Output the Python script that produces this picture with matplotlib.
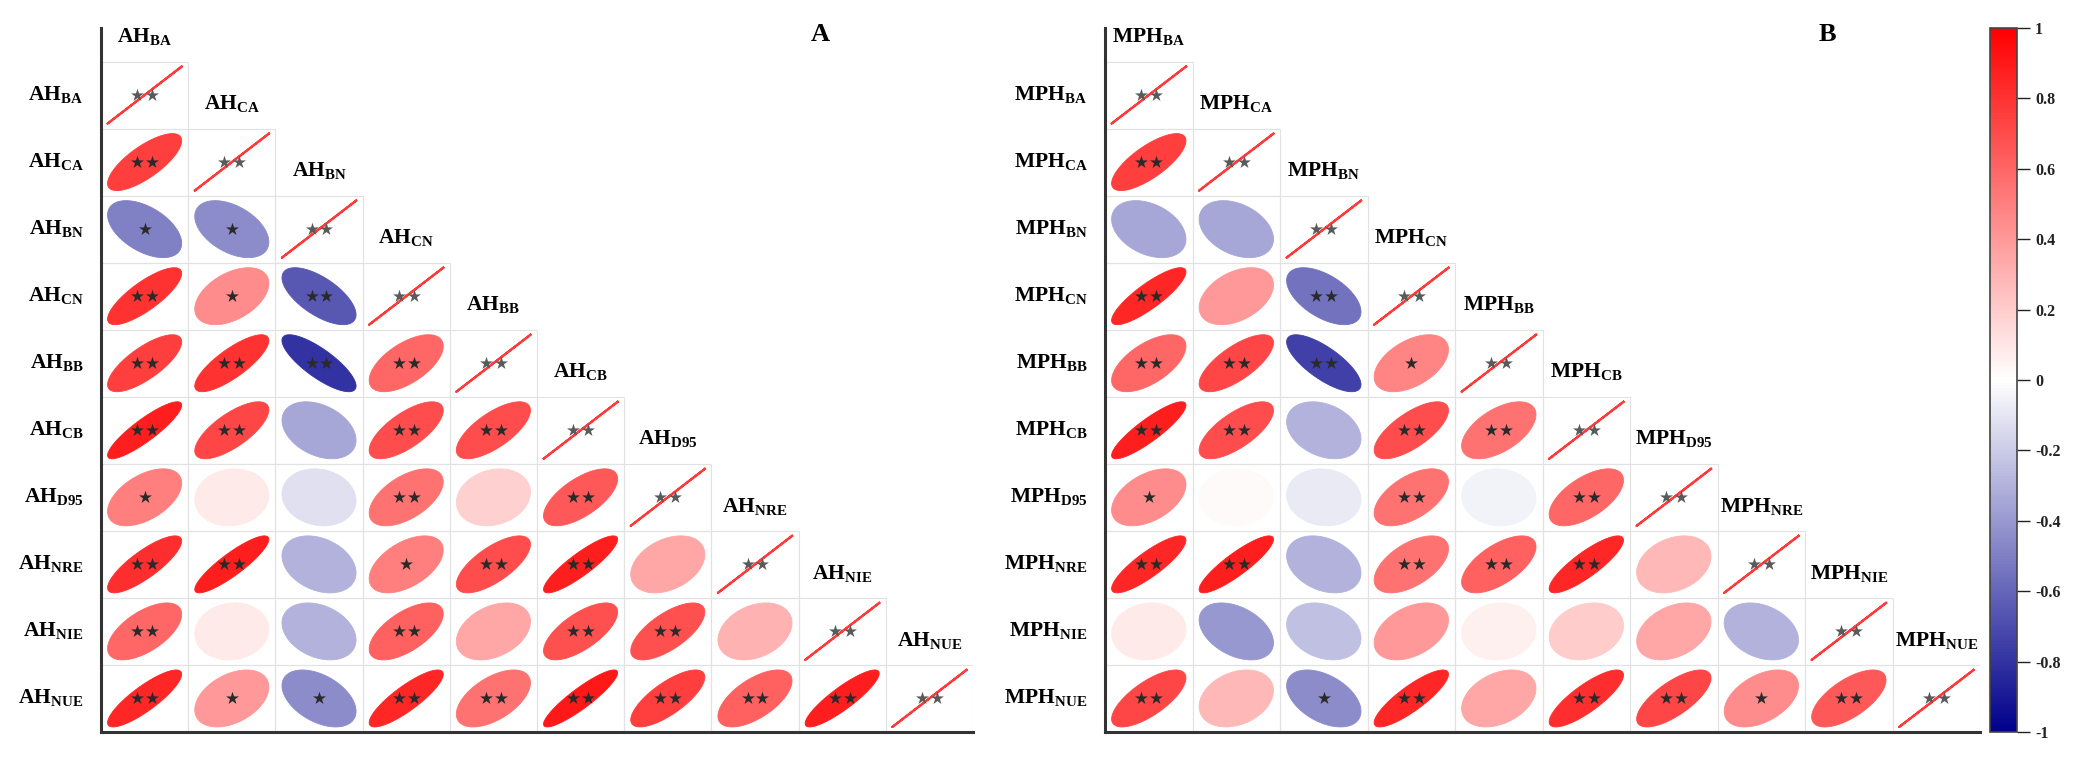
import numpy as np
import matplotlib
matplotlib.use("Agg")
import matplotlib.pyplot as plt
from matplotlib.colors import LinearSegmentedColormap, Normalize
from matplotlib.patches import Polygon, Rectangle
from matplotlib.ticker import FuncFormatter

plt.rcParams['font.family'] = ['Liberation Serif', 'DejaVu Serif']
plt.rcParams['font.weight'] = 'bold'
plt.rcParams['mathtext.fontset'] = 'custom'
plt.rcParams['mathtext.rm'] = 'Liberation Serif:bold'
plt.rcParams['mathtext.bf'] = 'Liberation Serif:bold'

variables = ["BA", "CA", "BN", "CN", "BB", "CB", "D95", "NRE", "NIE", "NUE"]

# lower triangle, row i holds correlations with variables 0..i-1
ah_corr = [
    [],
    [0.75],
    [-0.50, -0.45],
    [0.80, 0.45, -0.65],
    [0.75, 0.80, -0.80, 0.60],
    [0.88, 0.72, -0.35, 0.70, 0.70],
    [0.50, 0.08, -0.12, 0.55, 0.18, 0.65],
    [0.82, 0.88, -0.30, 0.50, 0.70, 0.88, 0.35],
    [0.60, 0.08, -0.30, 0.62, 0.35, 0.68, 0.68, 0.30],
    [0.85, 0.40, -0.45, 0.85, 0.55, 0.90, 0.75, 0.62, 0.88],
]
ah_sig = [
    [],
    ["**"],
    ["*", "*"],
    ["**", "*", "**"],
    ["**", "**", "**", "**"],
    ["**", "**", "", "**", "**"],
    ["*", "", "", "**", "", "**"],
    ["**", "**", "", "*", "**", "**", ""],
    ["**", "", "", "**", "", "**", "**", ""],
    ["**", "*", "*", "**", "**", "**", "**", "**", "**"],
]

mph_corr = [
    [],
    [0.75],
    [-0.35, -0.35],
    [0.85, 0.40, -0.55],
    [0.60, 0.72, -0.75, 0.48],
    [0.88, 0.70, -0.30, 0.70, 0.55],
    [0.45, 0.02, -0.08, 0.55, -0.05, 0.60],
    [0.85, 0.88, -0.30, 0.55, 0.62, 0.85, 0.28],
    [0.08, -0.40, -0.25, 0.40, 0.06, 0.20, 0.35, -0.30],
    [0.72, 0.28, -0.45, 0.85, 0.35, 0.82, 0.72, 0.45, 0.65],
]
mph_sig = [
    [],
    ["**"],
    ["", ""],
    ["**", "", "**"],
    ["**", "**", "**", "*"],
    ["**", "**", "", "**", "**"],
    ["*", "", "", "**", "", "**"],
    ["**", "**", "", "**", "**", "**", ""],
    ["", "", "", "", "", "", "", ""],
    ["**", "", "*", "**", "", "**", "**", "*", "**"],
]

cmap = LinearSegmentedColormap.from_list("bwr2", ["#00008B", "#FFFFFF", "#FF0000"])
norm = Normalize(-1, 1)


def ell(rho, npts=100):
    k = np.linspace(0, 2 * np.pi, npts)
    d = np.arccos(np.clip(rho, -1, 1))
    return np.cos(k + d / 2) / 2, np.cos(k - d / 2) / 2


def stars(ax, cx, cy, sig, color):
    n = len(sig)
    if n == 0:
        return
    offs = (np.arange(n) - (n - 1) / 2) * 0.17
    ax.scatter(cx + offs, np.full(n, cy), marker="*", s=95, color=color,
               linewidths=0, zorder=5)


def draw_panel(ax, prefix, corr, sig, title):
    n = len(variables)
    for i in range(n):
        cy = n - 1 - i + 0.5
        for j in range(i + 1):
            cx = j + 0.5
            ax.add_patch(Rectangle((j, n - 1 - i), 1, 1, facecolor="none",
                                   edgecolor="#e2e2e2", lw=0.8, zorder=1))
            if j == i:
                x, y = ell(1.0)
                ax.plot(cx + 0.85 * x, cy + 0.85 * y, color="#ff3b3b", lw=1.6, zorder=3)
                stars(ax, cx, cy, "**", "#5a5a5a")
            else:
                r = corr[i][j]
                x, y = ell(r)
                col = cmap(norm(r))
                ax.add_patch(Polygon(np.column_stack([cx + 0.85 * x, cy + 0.85 * y]),
                                     closed=True, facecolor=col, edgecolor=col,
                                     lw=0.6, zorder=2))
                stars(ax, cx, cy, sig[i][j], "#2a2a2a")
        lab = r"$\mathbf{%s}_{\mathbf{%s}}$" % (prefix, variables[i])
        ax.text(-0.2, cy, lab, ha="right", va="center", fontsize=15.5)
        ax.text(i + 0.5, n - i + 0.36, lab, ha="center", va="center", fontsize=15.5)

    ax.text(8.25, 10.4, title, ha="center", va="center", fontsize=19, fontweight="bold")
    ax.set_xlim(0, n)
    ax.set_ylim(0, n + 0.5)
    ax.set_xticks([])
    ax.set_yticks([])
    ax.spines["top"].set_visible(False)
    ax.spines["right"].set_visible(False)
    for s in ["left", "bottom"]:
        ax.spines[s].set_linewidth(2.2)
        ax.spines[s].set_color("#333333")


fig = plt.figure(figsize=(20.83, 7.59), dpi=100)
ax1 = fig.add_axes([0.0485, 0.0356, 0.4186, 0.9275])
ax2 = fig.add_axes([0.5305, 0.0356, 0.4201, 0.9275])
draw_panel(ax1, "AH", ah_corr, ah_sig, "A")
draw_panel(ax2, "MPH", mph_corr, mph_sig, "B")

cax = fig.add_axes([0.9553, 0.0356, 0.013, 0.9275])
sm = plt.cm.ScalarMappable(norm=norm, cmap=cmap)
cb = fig.colorbar(sm, cax=cax, ticks=np.linspace(-1, 1, 11))
cb.ax.yaxis.set_major_formatter(FuncFormatter(lambda v, p: "%g" % round(v, 1)))
cb.ax.tick_params(length=9, width=1, colors="#222222", labelsize=11.5, pad=4)
cb.outline.set_edgecolor("#444444")
cb.outline.set_linewidth(1.2)
for t in cb.ax.get_yticklabels():
    t.set_fontweight("bold")

fig.savefig("out.png", dpi=100)
